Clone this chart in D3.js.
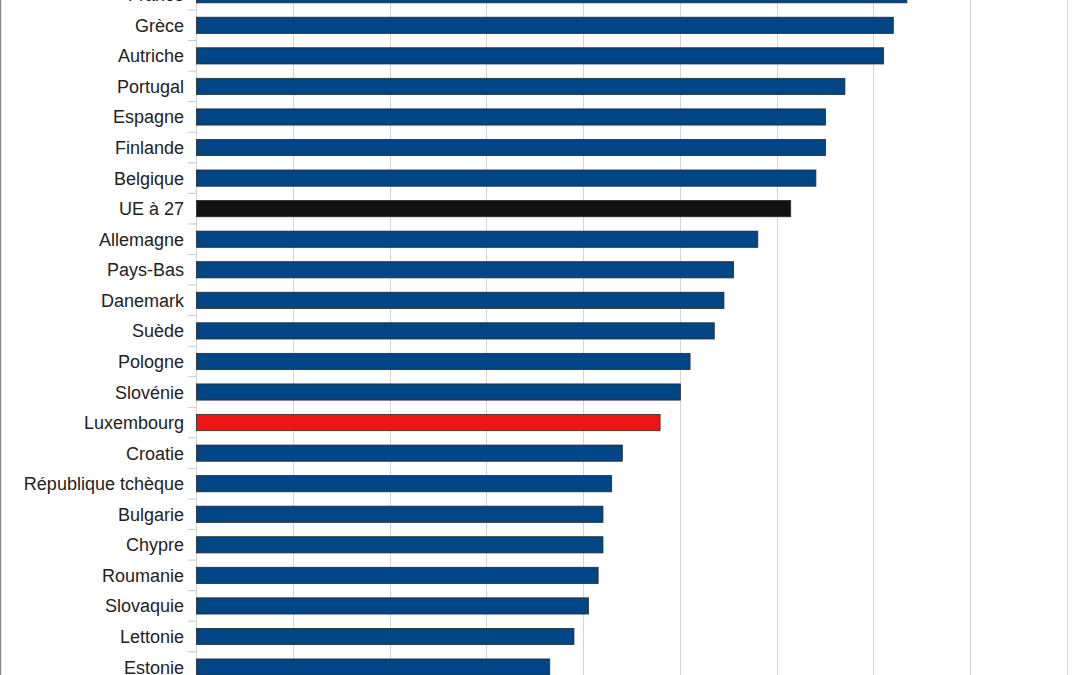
<!DOCTYPE html>
<html>
<head>
<meta charset="utf-8">
<script src="https://cdn.jsdelivr.net/npm/d3@7"></script>
<style>
html,body{margin:0;padding:0;background:#fff;}
svg{display:block;}
</style>
</head>
<body>
<svg id="chart" width="1080" height="675"></svg>
<script>
const categories = ["France","Grèce","Autriche","Portugal","Espagne","Finlande","Belgique","UE à 27","Allemagne","Pays-Bas","Danemark","Suède","Pologne","Slovénie","Luxembourg","Croatie","République tchèque","Bulgarie","Chypre","Roumanie","Slovaquie","Lettonie","Estonie"];
const values = [36.7,36.0,35.5,33.5,32.5,32.5,32.0,30.7,29.0,27.75,27.25,26.75,25.5,25.0,23.95,22.0,21.45,21.0,21.0,20.75,20.25,19.5,18.25];
const highlight = {"UE à 27":"#111111","Luxembourg":"#f01414"};
const baseColor = "#004586";
const xTicks = [0,5,10,15,20,25,30,35,40,45];

const svg = d3.select("#chart");
const x = d3.scaleLinear().domain([0,45]).range([196,1067]);
const y = d3.scaleBand().domain(categories).range([-20.54, 682.34]).paddingInner(0.47).paddingOuter(0.235);

// outer frame (left edge visible)
svg.append("line").attr("x1",0.5).attr("x2",0.5).attr("y1",0).attr("y2",675)
  .attr("stroke","#8a8a8a").attr("stroke-width",1.5);

// gridlines
svg.append("g").selectAll("line").data(xTicks).join("line")
  .attr("x1",d=>Math.round(x(d))+0.5).attr("x2",d=>Math.round(x(d))+0.5)
  .attr("y1",0).attr("y2",675)
  .attr("stroke","#d4d4d4").attr("stroke-width",1);

// category axis (ticks at band boundaries, labels)
const step = y.step();
const bounds = categories.map((c,i)=> y.range()[0] + i*step).concat([y.range()[0]+categories.length*step]);
svg.append("g").selectAll("line").data(bounds).join("line")
  .attr("x1",188).attr("x2",196).attr("y1",d=>d).attr("y2",d=>d)
  .attr("stroke","#c8c8c8").attr("stroke-width",1);

svg.append("g").selectAll("text").data(categories).join("text")
  .attr("x",184).attr("y",d=>y(d)+y.bandwidth()/2)
  .attr("dy","0.36em").attr("text-anchor","end")
  .attr("font-family","'Liberation Sans', Arial, sans-serif").attr("font-size",18)
  .attr("fill","#222").text(d=>d);

// bars
svg.append("g").selectAll("rect").data(categories).join("rect")
  .attr("x",x(0)+0.5).attr("y",d=>y(d))
  .attr("width",(d,i)=>x(values[i])-x(0))
  .attr("height",y.bandwidth())
  .attr("fill",d=>highlight[d]||baseColor)
  .attr("stroke","#2a2a2a").attr("stroke-width",0.8);
</script>
</body>
</html>
